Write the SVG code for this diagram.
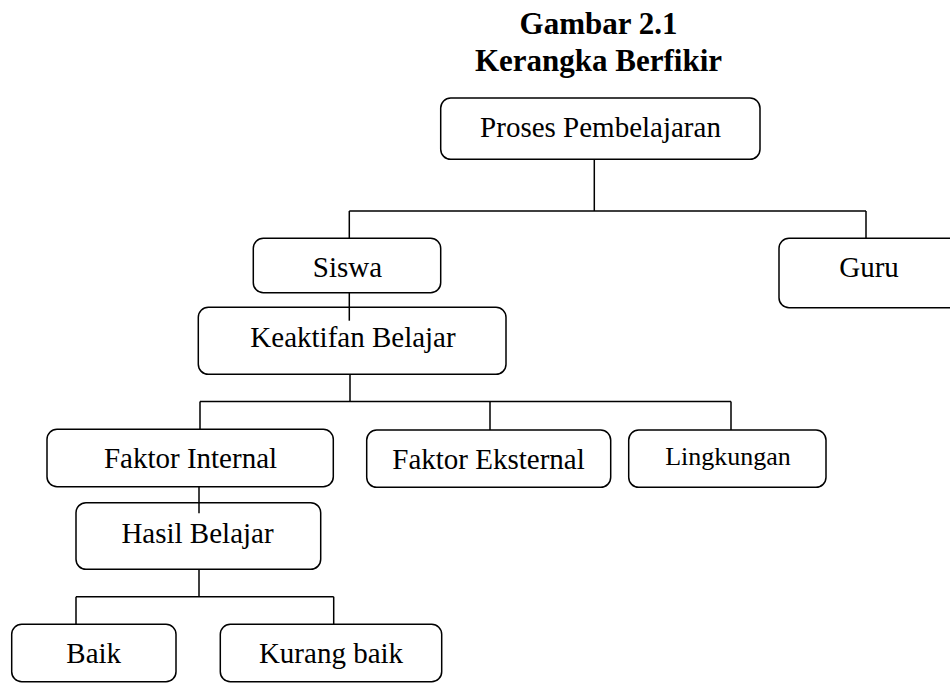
<svg xmlns="http://www.w3.org/2000/svg" width="950" height="683" viewBox="0 0 950 683">
<style>
.box{fill:#fff;stroke:#000;stroke-width:1.5}
.t{font-family:"Liberation Serif","Times New Roman",serif;font-size:29px;fill:#000;text-anchor:middle}
.title{font-family:"Liberation Serif","Times New Roman",serif;font-size:31px;font-weight:bold;fill:#000;text-anchor:middle}
.c{fill:none;stroke:#000;stroke-width:1.5}
</style>
<rect width="950" height="683" fill="#fff"/>
<g id="title">
<text class="title" x="598.5" y="34">Gambar 2.1</text>
<text class="title" x="598.5" y="70.5">Kerangka Berfikir</text>
</g>
<g id="connectors">
<path class="c" d="M594.3 159.3V211M349.3 211H866M349.3 211V238.3M866 211V238.3"/>
<path class="c" d="M349.3 292.7V320.7"/>
<path class="c" d="M350 374.3V401.5M200 401.5H731M200 401.5V429.5M490 401.5V430M731 401.5V430"/>
<path class="c" d="M199 486.7V513.3"/>
<path class="c" d="M199 569.3V596.7M76 596.7H333.7M76 596.7V624.3M333.7 596.7V624.3"/>
</g>
<g id="proses">
<rect class="box" x="440.7" y="98" width="319.3" height="61.3" rx="10"/>
<text class="t" x="600.5" y="136.7">Proses Pembelajaran</text>
</g>
<g id="siswa">
<rect class="box" x="253.3" y="238.3" width="187.4" height="54.4" rx="10"/>
<text class="t" x="347.5" y="277.3">Siswa</text>
</g>
<g id="guru">
<rect class="box" x="779" y="238.3" width="180" height="69.4" rx="10"/>
<text class="t" x="869" y="277.3">Guru</text>
</g>
<g id="keaktifan">
<rect class="box" x="198.3" y="307.3" width="307.7" height="67" rx="10"/>
<text class="t" x="353" y="347">Keaktifan Belajar</text>
</g>
<line class="c" x1="349.3" y1="307.3" x2="349.3" y2="320.7"/>
<g id="faktor-internal">
<rect class="box" x="47" y="429.3" width="286.3" height="57.4" rx="10"/>
<text class="t" x="190.5" y="468.3">Faktor Internal</text>
</g>
<g id="faktor-eksternal">
<rect class="box" x="366.7" y="430" width="244" height="57.3" rx="10"/>
<text class="t" x="488.5" y="469.3">Faktor Eksternal</text>
</g>
<g id="lingkungan">
<rect class="box" x="628.7" y="430" width="197.3" height="57.3" rx="10"/>
<text class="t" x="728" y="465" style="font-size:26px">Lingkungan</text>
</g>
<g id="hasil">
<rect class="box" x="76" y="502.7" width="244.7" height="66.6" rx="10"/>
<text class="t" x="197.5" y="542.7">Hasil Belajar</text>
</g>
<line class="c" x1="199" y1="502.7" x2="199" y2="513.3"/>
<g id="baik">
<rect class="box" x="11.7" y="624.3" width="164.3" height="57.4" rx="10"/>
<text class="t" x="93.7" y="663.3">Baik</text>
</g>
<g id="kurang-baik">
<rect class="box" x="220.3" y="624.3" width="221.4" height="57.4" rx="10"/>
<text class="t" x="331" y="663.3">Kurang baik</text>
</g>
</svg>
